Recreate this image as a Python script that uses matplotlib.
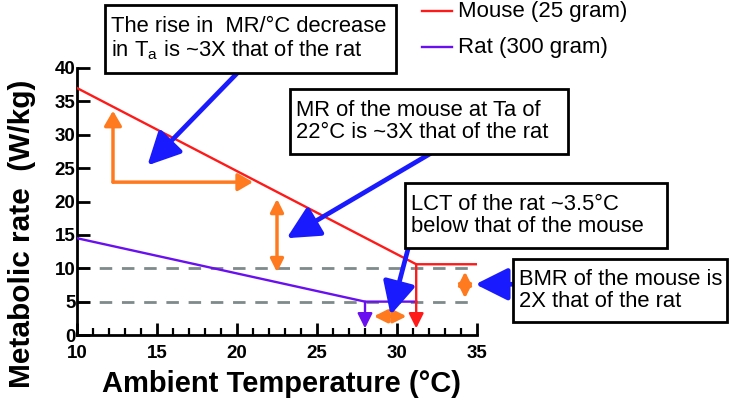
import numpy as np
import matplotlib
matplotlib.use("Agg")
from matplotlib import pyplot as plt
from matplotlib import transforms
from matplotlib.patches import Rectangle
from matplotlib.lines import Line2D

plt.rcParams['font.family'] = ['Liberation Sans', 'DejaVu Sans']
plt.rcParams['mathtext.default'] = 'regular'

# data
mouse_temp = [10, 31.2, 35]
mouse_mr = [37, 10.6, 10.6]
rat_temp = [10, 28, 31.2]
rat_mr = [14.5, 5, 5]
bmr_levels = [10, 5]
mouse_lct = 31.2
rat_lct = 28.0

red = '#ff1a1a'
purple = '#6a10f0'
blue = '#1a1aff'
orange = '#ff7a1f'
grey = '#7f8a8a'

fig = plt.figure(figsize=(7.29, 4.09), dpi=100)
ax = fig.add_axes([77/729, 1-335/409, 400/729, 267/409])

# pixel coords (origin top-left) for the annotation boxes / legend
px = transforms.Affine2D().scale(1/729, -1/409).translate(0, 1) + fig.transFigure

for lev in bmr_levels:
    ax.plot([10, 35], [lev, lev], color=grey, lw=2, dashes=(4.5, 3.5), zorder=1)

ax.plot(mouse_temp, mouse_mr, color=red, lw=1.7, zorder=3)
ax.plot(rat_temp, rat_mr, color=purple, lw=1.7, zorder=3)

def arrow(x0, y0, x1, y1, color, lw, style, ms):
    ax.annotate('', xy=(x1, y1), xytext=(x0, y0),
                arrowprops=dict(arrowstyle=style, color=color, lw=lw,
                                shrinkA=0, shrinkB=0, mutation_scale=ms),
                annotation_clip=False, zorder=4)

# LCT drop arrows
arrow(mouse_lct, mouse_mr[1], mouse_lct, 1.0, red, 1.7, '-|>,head_length=0.6,head_width=0.3', 15)
arrow(rat_lct, rat_mr[1], rat_lct, 1.0, purple, 1.7, '-|>,head_length=0.6,head_width=0.3', 15)

# orange arrows
arrow(12.25, 22.9, 12.25, 33.6, orange, 2.5, '-|>,head_length=0.6,head_width=0.35', 15)
arrow(12.25, 22.9, 21.0, 22.9, orange, 2.5, '-|>,head_length=0.6,head_width=0.35', 15)
arrow(22.5, 9.4, 22.5, 20.4, orange, 2.5, '<|-|>,head_length=0.6,head_width=0.3', 13)
arrow(34.25, 5.5, 34.25, 9.5, orange, 2.5, '<|-|>,head_length=0.6,head_width=0.3', 13)
arrow(28.55, 2.8, 30.6, 2.8, orange, 2.5, '<|-|>,head_length=0.6,head_width=0.3', 13)

# blue pointer arrows
bstyle = '-|>,head_length=0.9,head_width=0.45'
arrow(20.0, 39.2, 14.4, 25.4, blue, 3.4, bstyle, 22)
arrow(32.1, 27.2, 23.1, 14.5, blue, 3.4, bstyle, 22)
arrow(30.7, 13.0, 29.6, 3.0, blue, 3.4, bstyle, 22)
arrow(37.25, 7.6, 34.9, 7.6, blue, 3.4, bstyle, 22)

ax.set_xlim(10, 35)
ax.set_ylim(0, 40)
ax.set_xticks(np.arange(10, 36, 5))
ax.set_xticks(np.arange(10, 36, 1), minor=True)
ax.set_yticks(np.arange(0, 41, 5))
for s in ['top', 'right']:
    ax.spines[s].set_visible(False)
for s in ['left', 'bottom']:
    ax.spines[s].set_linewidth(2)
ax.tick_params(which='major', direction='in', length=9, width=2, labelsize=13.5)
ax.tick_params(axis='x', which='major', pad=7)
ax.tick_params(axis='y', which='major', pad=1)
ax.tick_params(which='minor', direction='in', length=5, width=1.6)
for lab in ax.get_xticklabels() + ax.get_yticklabels():
    lab.set_fontweight('bold')
ax.patch.set_alpha(0)

fig.text(281/729, 1-384/409, 'Ambient Temperature (°C)', fontsize=21, fontweight='bold',
         ha='center', va='center')
fig.text(22/729, 1-234/409, 'Metabolic rate  (W/kg)', fontsize=21.5, fontweight='bold',
         ha='center', va='center', rotation=90)

# text boxes
boxes = [
    ((105, 5, 396, 73), 'The rise in  MR/°C decrease\nin T$_{a}$ is ~3X that of the rat'),
    ((290, 89, 568, 154), 'MR of the mouse at Ta of\n22°C is ~3X that of the rat'),
    ((405, 183, 667, 248), 'LCT of the rat ~3.5°C\nbelow that of the mouse'),
    ((513, 259, 727, 322), 'BMR of the mouse is\n2X that of the rat'),
]
for (x0, y0, x1, y1), txt in boxes:
    fig.add_artist(Rectangle((x0, y0), x1 - x0, y1 - y0, transform=px,
                             fc='white', ec='black', lw=2, zorder=5))
    fig.text(x0 + 6, (y0 + y1) / 2, txt, transform=px, fontsize=15.8,
             ha='left', va='center', linespacing=1.1, zorder=6)

# legend drawn by hand
for yy, col, lab in [(11, red, 'Mouse (25 gram)'), (47, purple, 'Rat (300 gram)')]:
    fig.add_artist(Line2D([422, 452], [yy, yy], transform=px, color=col, lw=1.7))
    fig.text(458, yy, lab, transform=px, fontsize=16, ha='left', va='center')

fig.savefig('out.png', dpi=100)
